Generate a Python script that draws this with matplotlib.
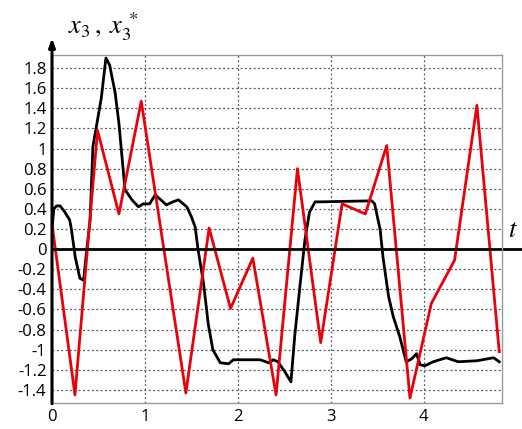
import numpy as np
import matplotlib.pyplot as plt

# red curve x3* (piecewise linear)
red_t = [0.0, 0.247, 0.49, 0.72, 0.96, 1.44, 1.69, 1.92, 2.16, 2.41, 2.64, 2.89,
         3.12, 3.37, 3.60, 3.85, 4.08, 4.33, 4.57, 4.81]
red_x = [0.25, -1.45, 1.18, 0.35, 1.47, -1.43, 0.21, -0.59, -0.09, -1.45, 0.80, -0.93,
         0.45, 0.35, 1.03, -1.48, -0.54, -0.11, 1.43, -1.02]

# black curve x3
black_t = [0.0, 0.02, 0.05, 0.086, 0.13, 0.19, 0.21, 0.25, 0.30, 0.34, 0.37, 0.41,
           0.44, 0.53, 0.58, 0.62, 0.68, 0.72, 0.785, 0.86, 0.93, 0.98, 1.05, 1.11,
           1.17, 1.23, 1.30, 1.36, 1.45, 1.50, 1.54, 1.57, 1.63, 1.68, 1.73, 1.81,
           1.90, 1.95, 2.02, 2.24, 2.33, 2.38, 2.43, 2.505, 2.57, 2.61, 2.67, 2.72,
           2.77, 2.83, 2.89, 3.44, 3.47, 3.53, 3.56, 3.62, 3.67, 3.74, 3.81, 3.87,
           3.92, 3.96, 4.01, 4.10, 4.24, 4.37, 4.57, 4.75, 4.81]
black_x = [0.20, 0.40, 0.43, 0.43, 0.38, 0.29, 0.19, -0.08, -0.29, -0.31, -0.04, 0.29,
           1.02, 1.50, 1.90, 1.83, 1.55, 1.25, 0.59, 0.49, 0.42, 0.45, 0.45, 0.54,
           0.49, 0.44, 0.47, 0.49, 0.42, 0.32, 0.22, 0.0, -0.34, -0.74, -1.0, -1.13,
           -1.14, -1.10, -1.10, -1.10, -1.13, -1.10, -1.12, -1.22, -1.32, -0.87, -0.34, 0.09,
           0.37, 0.47, 0.47, 0.48, 0.45, 0.19, -0.08, -0.47, -0.67, -0.87, -1.12, -1.09,
           -1.04, -1.15, -1.16, -1.12, -1.08, -1.12, -1.11, -1.08, -1.12]

y_ticks = np.round(np.arange(-1.4, 1.81, 0.2), 1)
y_labels = ['%g' % v if abs(v) > 1e-9 else '0' for v in y_ticks]
x_ticks = [0, 1, 2, 3, 4]

plt.rcParams['font.family'] = ['Open Sans', 'DejaVu Sans']
plt.rcParams['mathtext.fontset'] = 'stix'

fig = plt.figure(figsize=(5.22, 4.29), dpi=100)
ax = fig.add_axes([0.0996, 0.0606, 0.8621, 0.8112])

ax.plot(black_t, black_x, color='black', lw=2, solid_joinstyle='round')
ax.plot(red_t, red_x, color='#e8000b', lw=2)

ax.set_xlim(0, 4.84)
ax.set_ylim(-1.53, 1.93)
ax.set_xticks(x_ticks)
ax.set_yticks(y_ticks)
ax.set_yticklabels(y_labels)
ax.tick_params(length=0, labelsize=12, pad=4)
ax.grid(True, linestyle=(0, (1.5, 2)), color='#555555', lw=0.9)

for s in ['top', 'right', 'bottom']:
    ax.spines[s].set_color('#999999')
    ax.spines[s].set_linewidth(1)
ax.spines['left'].set_visible(False)

# y axis with arrow, and the t axis through zero
ax.annotate('', xy=(0, 1.057), xytext=(0, -0.01), xycoords='axes fraction',
            arrowprops=dict(arrowstyle='-|>,head_length=0.5,head_width=0.18', lw=2.2, color='black'))
ax.plot([0, 1.06], [0, 0], color='black', lw=2, transform=ax.get_yaxis_transform(), clip_on=False)

ax.text(1.014, 0.19, r'$t$', transform=ax.get_yaxis_transform(), fontsize=19,
        ha='left', va='center')
ax.text(0.035, 1.035, r'$x_3\,,\;x_3^{\,*}$', transform=ax.transAxes, fontsize=19,
        ha='left', va='bottom')

plt.savefig('out.png', dpi=100)
